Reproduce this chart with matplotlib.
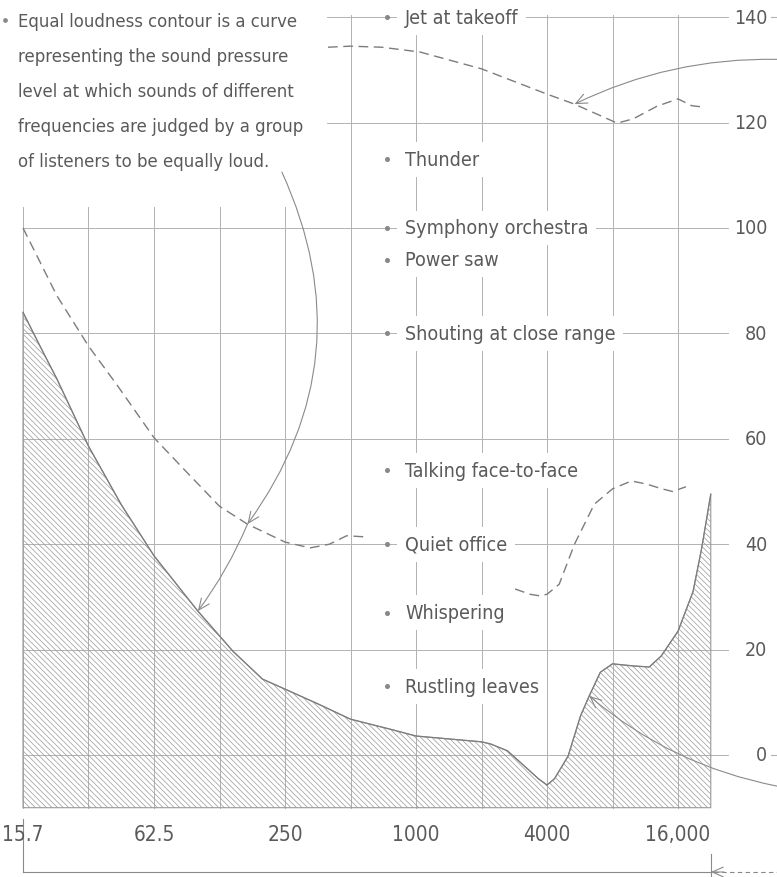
import numpy as np
import matplotlib
matplotlib.use('Agg')
import matplotlib.pyplot as plt
from matplotlib import font_manager as fm
from matplotlib.patches import FancyArrowPatch
from matplotlib.transforms import blended_transform_factory

# ---------------- data ----------------
octave_freqs = [15.625, 31.25, 62.5, 125, 250, 500, 1000, 2000, 4000, 8000, 16000]
x_tick_freqs = [15.625, 62.5, 250, 1000, 4000, 16000]
x_tick_labels = ['15.7', '62.5', '250', '1000', '4000', '16,000']
db_levels = [140, 120, 100, 80, 60, 40, 20, 0]
db_labels = ['140', '120', '100', '80', '60', '40', '20', '0']

# threshold of hearing (hatched area)
thr_freq = [15.625, 18.7, 22.4, 31.25, 44.2, 62.5, 99.4, 144, 197, 250, 354, 500, 760,
            1000, 2000, 2200, 2630, 3150, 3650, 4000, 4330, 5000, 5700, 6250, 7030,
            8000, 9950, 11800, 13400, 16000, 18750, 20500, 22627]
thr_db = [84, 77.6, 71.3, 58.6, 47.5, 37.8, 27.3, 19.7, 14.4, 12.5, 9.7, 6.8, 4.9,
          3.6, 2.5, 2.1, 0.8, -2.1, -4.5, -5.7, -4.5, -0.2, 7.4, 11.2, 15.7,
          17.3, 16.9, 16.7, 18.8, 23.5, 31.0, 39.0, 49.5]

# dashed contour, low part (left segment)
dash1_freq = [15.625, 22.4, 31.25, 42.6, 62.5, 88.2, 125, 168, 250, 326, 400, 480, 580]
dash1_db = [100, 87.1, 77.6, 70.0, 60.2, 53.7, 47.2, 43.8, 40.4, 39.3, 40.0, 41.6, 41.4]

# dashed contour, right segment
dash2_freq = [2853, 3340, 3710, 4000, 4550, 5350, 6600, 8000, 9770, 11500, 13500, 15100, 17400]
dash2_db = [31.5, 30.5, 30.2, 30.5, 32.4, 40.0, 47.6, 50.5, 52.0, 51.4, 50.5, 50.0, 50.9]

# dashed contour, top (threshold of pain)
dash3_freq = [394, 500, 695, 1040, 2000, 4000, 5350, 8400, 9950, 12800, 16000, 18500, 20400]
dash3_db = [134.3, 134.5, 134.3, 133.4, 130.2, 125.4, 123.5, 119.9, 120.7, 123.1, 124.5, 123.2, 123.0]

# example sounds
sound_labels = ['Jet at takeoff', 'Thunder', 'Symphony orchestra', 'Power saw',
                'Shouting at close range', 'Talking face-to-face', 'Quiet office',
                'Whispering', 'Rustling leaves']
sound_db = [140, 113, 100, 94, 80, 54, 40, 27, 13]

note_lines = ['Equal loudness contour is a curve',
              'representing the sound pressure',
              'level at which sounds of different',
              'frequencies are judged by a group',
              'of listeners to be equally loud.']

# ---------------- fonts ----------------
entries = fm.fontManager.ttflist
names = {f.name for f in entries}
if 'Liberation Sans Narrow' in names:
    FAM, STR, SCALE = 'Liberation Sans Narrow', 'normal', 0.93
elif any(f.name == 'DejaVu Sans' and 'ondensed' in f.fname for f in entries):
    FAM, STR, SCALE = 'DejaVu Sans', 'condensed', 0.83
else:
    FAM, STR, SCALE = 'Roboto', 'normal', 0.76
plt.rcParams['font.family'] = [FAM, 'DejaVu Sans']
plt.rcParams['hatch.linewidth'] = 0.5

TXT = '#5a5a5a'
GRID = '#b2b2b2'
CURVE = '#7c7c7c'

# ---------------- figure ----------------
W, H = 777, 878
fig = plt.figure(figsize=(W / 100, H / 100), dpi=100)
ax = fig.add_axes([0, 0, 1, 1])
ax.set_xscale('log', base=2)
ax.set_xlim(12.25, 45600)
ax.set_ylim(-23.15, 143.45)
ax.axis('off')

def pxa(x, y):
    return (x / W, 1 - y / H)

bx = blended_transform_factory(ax.transAxes, ax.transData)

f_right = 27200     # right end of horizontal grid lines
f_upper = 389       # left end of the upper grid lines
y_bottom = -10

# vertical grid lines
for f in octave_freqs:
    top = 104 if f < 500 else 140.5
    ax.plot([f, f], [y_bottom, top], color=GRID, lw=0.7, zorder=1)
# horizontal grid lines
for v in db_levels:
    left = f_upper if v >= 120 else octave_freqs[0]
    ax.plot([left, f_right], [v, v], color=GRID, lw=0.7, zorder=1)

# hatched threshold area
ax.fill_between(thr_freq, thr_db, y_bottom, facecolor='none', edgecolor='#999999',
                hatch='\\' * 6, linewidth=0.8, zorder=2)
ax.plot(thr_freq, thr_db, color=CURVE, lw=0.9, zorder=3)

# dashed contours
for fq, db in [(dash1_freq, dash1_db), (dash2_freq, dash2_db), (dash3_freq, dash3_db)]:
    ax.plot(fq, db, color=CURVE, lw=1.0, dashes=(7, 4), zorder=3)

# sound labels with dots
for lab, v in zip(sound_labels, sound_db):
    ax.plot([735], [v], 'o', ms=2.6, color='#888888', zorder=5)
    ax.text(890, v, lab, fontsize=17 * SCALE, color=TXT, va='center', ha='left',
            fontstretch=STR, zorder=6,
            bbox=dict(boxstyle='square,pad=0.4', fc='white', ec='none'))

# right dB labels
for v, lab in zip(db_levels, db_labels):
    ax.text(767 / W, v, lab, transform=bx, fontsize=17 * SCALE, color=TXT,
            ha='right', va='center', fontstretch=STR, zorder=6,
            bbox=dict(boxstyle='square,pad=0.2', fc='white', ec='none'))
ax.plot([771 / W, 777 / W], [140, 140], transform=bx, color=GRID, lw=0.8)
ax.plot([770 / W, 777 / W], [0, 0], transform=bx, color=GRID, lw=0.8)

# x labels
for f, lab in zip(x_tick_freqs, x_tick_labels):
    ax.text(f, -15, lab, fontsize=18 * SCALE, color=TXT, ha='center', va='center',
            fontstretch=STR, zorder=6)

# explanatory note
for i, line in enumerate(note_lines):
    ax.text(*pxa(18, 27 + 35 * i), line, transform=ax.transAxes, fontsize=16 * SCALE,
            color=TXT, ha='left', va='baseline', fontstretch=STR)
ax.plot(*pxa(5, 21), 'o', ms=2.4, color='#888888', transform=ax.transAxes)

# annotation arrows
def lg(a):
    return np.log2(np.asarray(a, float))

def on(curve_f, curve_db, f):
    return float(np.interp(np.log2(f), lg(curve_f), curve_db))

def arrow(p1, p2, rad):
    a = FancyArrowPatch(p1, p2, connectionstyle=f'arc3,rad={rad}',
                        arrowstyle='->,head_length=0.8,head_width=0.35',
                        mutation_scale=10, color='#8a8a8a', lw=0.8,
                        shrinkA=0, shrinkB=0, zorder=4)
    ax.add_patch(a)

pA = (168, on(dash1_freq, dash1_db, 168))
pB = (99.4, on(thr_freq, thr_db, 99.4))
arrow((242, 110.6), pA, -0.29)
arrow(pA, pB, -0.06)
arrow((45600, 132), (5350, on(dash3_freq, dash3_db, 5350)), 0.12)
arrow((45600, -5.9), (6250, on(thr_freq, thr_db, 6250)), -0.13)

# bottom bracket
ax.plot([octave_freqs[0]] * 2, [-12.1, -22.2], color='#8a8a8a', lw=0.8)
ax.plot([octave_freqs[0], 22627], [-22.2, -22.2], color='#8a8a8a', lw=0.8)
ax.plot([22627, 22627], [-18.8, -23.1], color='#8a8a8a', lw=0.8)
ax.plot([23500, 45600], [-22.2, -22.2], color='#8a8a8a', lw=0.8, dashes=(4, 3))
ax.add_patch(FancyArrowPatch((26000, -22.2), (22627, -22.2),
                             arrowstyle='->,head_length=0.8,head_width=0.35',
                             mutation_scale=10, color='#8a8a8a', lw=0.8,
                             shrinkA=0, shrinkB=0))

fig.savefig('out.png', dpi=100)
